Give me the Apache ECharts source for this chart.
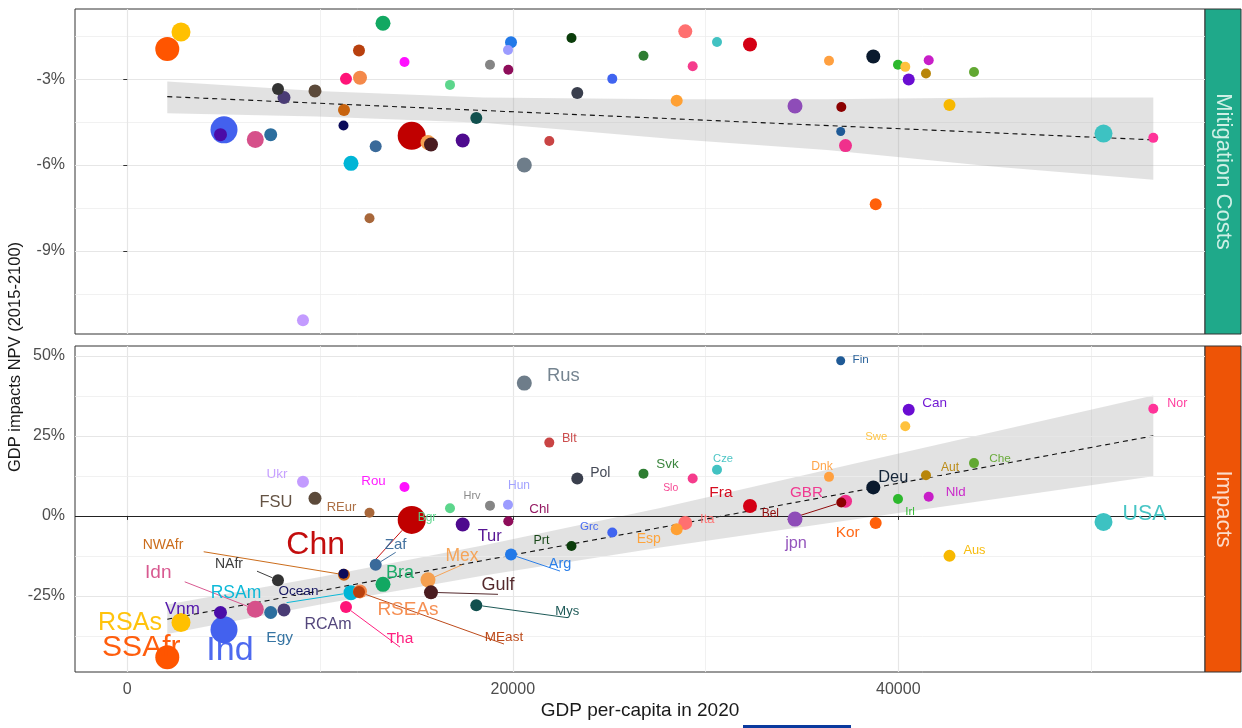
<!DOCTYPE html>
<html><head><meta charset="utf-8">
<script src="https://cdn.jsdelivr.net/npm/echarts@6/dist/echarts.min.js"></script>
<style>html,body{margin:0;padding:0;background:#fff}#c{width:1242px;height:728px}</style>
</head><body><div id="c"></div>
<script>
// ---------------- data ----------------
const regions = ['SSAfr','RSAs','Ind','Vnm','Idn','Egy','RCAm','NAfr','Ukr','FSU','NWAfr','Ocean','Tha','RSAm','MEast','RSEAs','REur','Zaf','Bra','Rou','Chn','Mex','Gulf','Bgr','Tur','Mys','Hrv','Hun','Chl','Arg','Rus','Blt','Prt','Pol','Grc','Svk','Esp','Ita','Slo','Cze','Fra','jpn','Dnk','Fin','Bel','GBR','Deu','Kor','Irl','Swe','Can','Aut','Nld','Aus','Che','USA','Nor'];
const gdpPerCapita2020 = [2075,2786,5017,4835,6641,7440,8130,7818,9115,9738,11243,11217,11346,11606,12021,12073,12566,12887,13266,14381,14755,15600,15756,16742,17401,18106,18817,19751,19767,19907,20597,21894,23045,23346,25162,26781,28503,28949,29333,30594,32306,34641,36405,37012,37043,37261,38703,38828,39984,40363,40540,41437,41578,42656,43927,50646,53230];
const mitigationCostNPV = [-1.95,-1.35,-4.77,-4.94,-5.11,-4.94,-3.64,-3.34,-11.42,-3.41,-4.08,-4.62,-2.99,-5.94,-2.00,-2.95,-7.86,-5.34,-1.05,-2.40,-4.98,-5.21,-5.28,-3.20,-5.14,-4.36,-2.50,-1.98,-2.67,-1.71,-6.00,-5.16,-1.56,-3.48,-2.99,-2.18,-3.75,-1.33,-2.55,-1.70,-1.79,-3.94,-2.36,-4.83,-3.97,-5.32,-2.21,-7.37,-2.50,-2.57,-3.01,-2.80,-2.34,-3.90,-2.75,-4.90,-5.05];
const impactsNPV = [-44.2,-33.3,-35.6,-30.2,-29.2,-30.2,-29.4,-20.1,10.7,5.5,-18.4,-18.1,-28.5,-24.0,-23.8,-23.6,1.0,-15.3,-21.4,9.0,-1.25,-20.0,-23.9,2.4,-2.7,-27.9,3.2,3.5,-1.7,-12.1,41.5,22.9,-9.4,11.7,-5.2,13.2,-4.2,-2.2,11.7,14.4,3.1,-1.0,12.2,48.5,4.2,4.6,8.9,-2.2,5.3,28.0,33.2,12.7,6.0,-12.5,16.5,-1.9,33.5];

const trendX = [2075, 53230];
const mitigationTrend = [-3.61, -5.12];
const impactsTrend = [-32.3, 25.0];
const mitigationBandX = [2075, 9850, 18450, 28150, 36300, 44900, 53230];
const mitigationBandUpper = [-3.08, -3.41, -3.64, -3.70, -3.70, -3.64, -3.64];
const mitigationBandLower = [-4.19, -4.30, -4.52, -5.08, -5.47, -6.05, -6.51];
const impactsBandX = [2075, 10000, 18500, 27650, 39740, 53230];
const impactsBandUpper = [-27.7, -19.1, -9.2, 2.5, 19.1, 37.6];
const impactsBandLower = [-36.9, -27.7, -18.6, -9.9, 0.7, 12.4];

const xTicks = [0, 20000, 40000];
const mitigationTicks = [-9, -6, -3];
const impactsTicks = [-25, 0, 25, 50];
const impactsMinorGrid = [-37.5, -12.5, 12.5, 37.5];
const facetLabels = ['Mitigation Costs', 'Impacts'];
const xTitle = 'GDP per-capita in 2020';
const yTitle = 'GDP impacts NPV (2015-2100)';

// ---------------- styles ----------------
const regionColor = {SSAfr:'#FF5500',RSAs:'#FFC000',Ind:'#4361EE',Vnm:'#4B0CA8',Idn:'#D6508A',Egy:'#2C6E9E',RCAm:'#4A3C75',NAfr:'#333333',Ukr:'#C39BFF',FSU:'#5C4A3A',NWAfr:'#C8640F',Ocean:'#0B0B5A',Tha:'#FF1478',RSAm:'#00B5D6',MEast:'#B8400E',RSEAs:'#F4894A',REur:'#A8673A',Zaf:'#3A6A9A',Bra:'#12A862',Rou:'#FF10FF',Chn:'#C00000',Mex:'#F5A050',Gulf:'#4A1C20',Bgr:'#5CD68C',Tur:'#4E0A8E',Mys:'#11504E',Hrv:'#858585',Hun:'#9C9CFF',Chl:'#8E0D5A',Arg:'#2279E8',Rus:'#6E7D8A',Blt:'#C94444',Prt:'#0B3D0B',Pol:'#3A3F4D',Grc:'#4064F0',Svk:'#2E7D32',Esp:'#FFA033',Ita:'#FF7070',Slo:'#F53C8C',Cze:'#42C2C2',Fra:'#D40014',jpn:'#8E4CB8',Dnk:'#FFA040',Fin:'#1F5A96',Bel:'#8B0000',GBR:'#F0308C',Deu:'#0A1A2E',Kor:'#FF600A',Irl:'#2DB82D',Swe:'#FFC23D',Can:'#6A0DD2',Aut:'#B8860B',Nld:'#C81EC8',Aus:'#F7B800',Che:'#62A832',USA:'#3DC2C2',Nor:'#FF3399'};
const pointSize = {SSAfr:24,RSAs:19,Ind:27,Vnm:13,Idn:17,Egy:13,RCAm:13,NAfr:12,Ukr:12,FSU:13,NWAfr:12,Ocean:10,Tha:12,RSAm:15,MEast:12,RSEAs:14,REur:10,Zaf:12,Bra:15,Rou:10,Chn:28,Mex:15,Gulf:14,Bgr:10,Tur:14,Mys:12,Hrv:10,Hun:10,Chl:10,Arg:12,Rus:15,Blt:10,Prt:10,Pol:12,Grc:10,Svk:10,Esp:12,Ita:14,Slo:10,Cze:10,Fra:14,jpn:15,Dnk:10,Fin:9,Bel:10,GBR:13,Deu:14,Kor:12,Irl:10,Swe:10,Can:12,Aut:10,Nld:10,Aus:12,Che:10,USA:18,Nor:10};
const labelSize = {SSAfr:30,RSAs:25,Ind:34,Vnm:17,Idn:19,Egy:15.5,RCAm:16,NAfr:14,Ukr:13.5,FSU:16.5,NWAfr:14,Ocean:13.5,Tha:15.5,RSAm:17.5,MEast:13.5,RSEAs:19,REur:13,Zaf:15,Bra:18,Rou:13.3,Chn:32,Mex:17.5,Gulf:18,Bgr:12,Tur:16.5,Mys:13,Hrv:11,Hun:12,Chl:13.3,Arg:14.5,Rus:18.4,Blt:12.6,Prt:12.5,Pol:14,Grc:11.6,Svk:13.4,Esp:14,Ita:13,Slo:10.4,Cze:11.2,Fra:15.5,jpn:16.3,Dnk:12.2,Fin:11.7,Bel:12,GBR:15.2,Deu:16.4,Kor:15.4,Irl:11.5,Swe:11.3,Can:13.5,Aut:12,Nld:13.3,Aus:12.8,Che:11.8,USA:21.4,Nor:12.4};
const labelOffset = {SSAfr:[-26,-10],RSAs:[-51,1],Ind:[6,21],Vnm:[-38,-3],Idn:[-97,-37],Egy:[9,25],RCAm:[44,15],NAfr:[-49,-16],Ukr:[-26,-7],FSU:[-39,4],NWAfr:[-181,-30],Ocean:[-45,17],Tha:[54,32],RSAm:[-115,1],MEast:[145,45],RSEAs:[48,18],REur:[-28,-5],Zaf:[20,-20],Bra:[17,-11],Rou:[-31,-6],Chn:[-96,25],Mex:[34,-24],Gulf:[67,-7],Bgr:[-23,9],Tur:[27,12],Mys:[91,6],Hrv:[-18,-10],Hun:[11,-19],Chl:[31,-12],Arg:[49,9],Rus:[39,-7],Blt:[20,-4],Prt:[-30,-5],Pol:[23,-5],Grc:[-23,-6],Svk:[24,-9],Esp:[-28,10],Ita:[22,-3],Slo:[-22,10],Cze:[6,-11],Fra:[-29,-13],jpn:[1,24],Dnk:[-7,-10],Fin:[20,-1],Bel:[-71,11],GBR:[-39,-8],Deu:[20,-10],Kor:[-28,10],Irl:[12,13],Swe:[-29,11],Can:[26,-6],Aut:[24,-8],Nld:[27,-4],Aus:[25,-5],Che:[26,-4],USA:[41,-8],Nor:[24,-5]};
const labelLeader = ['Idn','NAfr','NWAfr','Tha','RSAm','MEast','Zaf','Chn','Mex','Gulf','Mys','Arg','Bel'];

const FONT = "'Liberation Sans', Arial, sans-serif";
const GRID = [{left:75, top:9, width:1130, height:325},{left:75, top:346, width:1130, height:326}];
const stripColor = ['#1FA98A', '#EE5406'];
const stripText = ['#CFF0E6', '#FBDCCB'];

function hexA(h, a) { const n = parseInt(h.slice(1), 16); return 'rgba(' + ((n >> 16) & 255) + ',' + ((n >> 8) & 255) + ',' + (n & 255) + ',' + a + ')'; }
const order = regions.map((r, i) => i).sort((a, b) => pointSize[regions[b]] - pointSize[regions[a]]);

function points(yArr, labelled) {
  return order.map(i => {
    const r = regions[i];
    const it = { name: r, value: [gdpPerCapita2020[i], yArr[i]], symbolSize: pointSize[r], itemStyle: { color: regionColor[r], opacity: 1 } };
    if (labelled) {
      it.label = { show: true, position: 'inside', offset: labelOffset[r], formatter: r, fontSize: labelSize[r], fontFamily: FONT, color: hexA(regionColor[r], 0.95) };
      if (labelLeader.includes(r)) it.labelLine = { show: true, smooth: false, lineStyle: { color: regionColor[r], width: 1, opacity: 0.95 } };
      else it.labelLine = { show: false };
    }
    return it;
  });
}

function band(xs, up, lo, gi) {
  return {
    type: 'custom', xAxisIndex: gi, yAxisIndex: gi, z: 2, silent: true, clip: true,
    data: [[xs[0], up[0]]],
    renderItem: (p, api) => {
      const pts = [];
      xs.forEach((x, k) => pts.push(api.coord([x, up[k]])));
      for (let k = xs.length - 1; k >= 0; k--) pts.push(api.coord([xs[k], lo[k]]));
      return { type: 'polygon', shape: { points: pts }, style: { fill: 'rgba(160,160,160,0.3)' } };
    }
  };
}

function trend(ys, gi, extra) {
  return Object.assign({
    type: 'line', xAxisIndex: gi, yAxisIndex: gi, z: 3, silent: true, symbol: 'none',
    data: trendX.map((x, k) => [x, ys[k]]),
    lineStyle: { color: '#111', width: 1.1, type: [5, 4] }
  }, extra || {});
}

function xAxis(gi) {
  const bottom = gi === 1;
  return {
    gridIndex: gi, type: 'value', min: -2713, max: 55912, splitNumber: 3,
    axisLine: { show: false },
    axisTick: { show: bottom, length: 4, lineStyle: { color: '#333' }, customValues: xTicks },
    axisLabel: { show: bottom, customValues: xTicks, formatter: v => String(v), color: '#4D4D4D', fontSize: 16, fontFamily: FONT, margin: 10 },
    splitLine: { show: true, lineStyle: { color: '#E6E6E6', width: 1.2 } },
    minorTick: { show: false, splitNumber: 2 },
    minorSplitLine: { show: true, lineStyle: { color: '#EEEEEE', width: 0.8 } },
    name: bottom ? xTitle : '', nameLocation: 'middle', nameGap: 29,
    nameTextStyle: { color: '#1A1A1A', fontSize: 19, fontFamily: FONT }
  };
}

const option = {
  animation: false,
  backgroundColor: '#fff',
  grid: GRID.map(g => Object.assign({ show: true, borderColor: '#333', borderWidth: 1, backgroundColor: 'transparent', containLabel: false }, g)),
  xAxis: [xAxis(0), xAxis(1)],
  yAxis: [
    { gridIndex: 0, type: 'value', min: -11.9, max: -0.55, splitNumber: 4,
      axisLine: { show: false },
      axisTick: { show: true, length: 4, lineStyle: { color: '#333' }, customValues: mitigationTicks },
      axisLabel: { customValues: mitigationTicks, formatter: v => v + '%', color: '#4D4D4D', fontSize: 16, fontFamily: FONT, margin: 10 },
      splitLine: { show: true, lineStyle: { color: '#E6E6E6', width: 1.2 } },
      minorTick: { show: false, splitNumber: 2 },
      minorSplitLine: { show: true, lineStyle: { color: '#EEEEEE', width: 0.8 } } },
    { gridIndex: 1, type: 'value', min: -48.8, max: 53.1,
      axisLine: { show: false },
      axisTick: { show: true, length: 4, lineStyle: { color: '#333' }, customValues: impactsTicks },
      axisLabel: { customValues: impactsTicks, formatter: v => v + '%', color: '#4D4D4D', fontSize: 16, fontFamily: FONT, margin: 10 },
      splitLine: { show: false } }
  ],
  series: [
    { type: 'line', xAxisIndex: 1, yAxisIndex: 1, z: 1, silent: true, symbol: 'none', data: [[0, 0]], lineStyle: { opacity: 0 },
      markLine: { silent: true, symbol: ['none', 'none'], label: { show: false }, animation: false,
        data: impactsTicks.map(v => ({ yAxis: v, lineStyle: { color: '#E6E6E6', width: 1.2, type: 'solid' } }))
          .concat(impactsMinorGrid.map(v => ({ yAxis: v, lineStyle: { color: '#EEEEEE', width: 0.8, type: 'solid' } }))) } },
    band(mitigationBandX, mitigationBandUpper, mitigationBandLower, 0),
    band(impactsBandX, impactsBandUpper, impactsBandLower, 1),
    trend(mitigationTrend, 0),
    trend(impactsTrend, 1, { markLine: { silent: true, symbol: ['none', 'none'], label: { show: false }, animation: false,
      data: [{ yAxis: 0 }], lineStyle: { color: '#222', width: 1.2, type: 'solid' } } }),
    { type: 'scatter', xAxisIndex: 0, yAxisIndex: 0, z: 5, silent: true, itemStyle: { opacity: 1 }, data: points(mitigationCostNPV, false) },
    { type: 'scatter', xAxisIndex: 1, yAxisIndex: 1, z: 5, silent: true, itemStyle: { opacity: 1 }, data: points(impactsNPV, true) }
  ],
  graphic: [
    { type: 'rect', shape: { x: 1205, y: 9, width: 36, height: 325 }, style: { fill: stripColor[0], stroke: '#333', lineWidth: 1 } },
    { type: 'rect', shape: { x: 1205, y: 346, width: 36, height: 326 }, style: { fill: stripColor[1], stroke: '#333', lineWidth: 1 } },
    { type: 'text', x: 1223, y: 171.5, rotation: -Math.PI / 2, style: { text: facetLabels[0], fill: stripText[0], fontSize: 22, fontFamily: FONT, align: 'center', verticalAlign: 'middle' } },
    { type: 'text', x: 1223, y: 509, rotation: -Math.PI / 2, style: { text: facetLabels[1], fill: stripText[1], fontSize: 22, fontFamily: FONT, align: 'center', verticalAlign: 'middle' } },
    { type: 'text', x: 15, y: 357, rotation: Math.PI / 2, style: { text: yTitle, fill: '#1A1A1A', fontSize: 16.5, fontFamily: FONT, align: 'center', verticalAlign: 'middle' } },
    { type: 'rect', shape: { x: 743, y: 725, width: 108, height: 3 }, style: { fill: '#0B3A9E' } }
  ]
};

const chart = echarts.init(document.getElementById('c'), null, { renderer: 'canvas' });
chart.setOption(option);
</script>
</body></html>
